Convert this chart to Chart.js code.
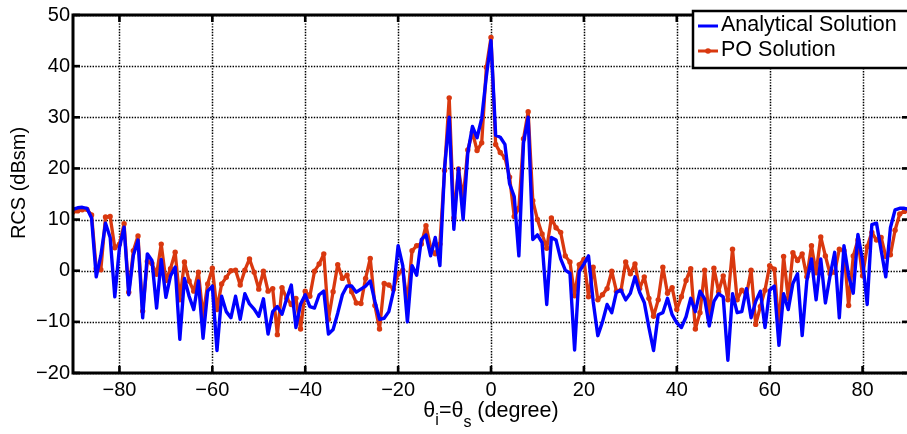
<!DOCTYPE html>
<html>
<head>
<meta charset="utf-8">
<script src="https://cdn.jsdelivr.net/npm/chart.js@4.4.1/dist/chart.umd.min.js"></script>
<style>
html,body{margin:0;padding:0;background:#fff;overflow:hidden;width:907px;height:434px;}
canvas{display:block;}
</style>
</head>
<body>
<canvas id="c" width="912" height="434" style="width:912px;height:434px"></canvas>
<script>
const angles = [-90,-89,-88,-87,-86,-85,-84,-83,-82,-81,-80,-79,-78,-77,-76,-75,-74,-73,-72,-71,
-70,-69,-68,-67,-66,-65,-64,-63,-62,-61,-60,-59,-58,-57,-56,-55,-54,-53,-52,-51,
-50,-49,-48,-47,-46,-45,-44,-43,-42,-41,-40,-39,-38,-37,-36,-35,-34,-33,-32,-31,
-30,-29,-28,-27,-26,-25,-24,-23,-22,-21,-20,-19,-18,-17,-16,-15,-14,-13,-12,-11,
-10,-9,-8,-7,-6,-5,-4,-3,-2,-1,0,1,2,3,4,5,6,7,8,9,
10,11,12,13,14,15,16,17,18,19,20,21,22,23,24,25,26,27,28,29,
30,31,32,33,34,35,36,37,38,39,40,41,42,43,44,45,46,47,48,49,
50,51,52,53,54,55,56,57,58,59,60,61,62,63,64,65,66,67,68,69,
70,71,72,73,74,75,76,77,78,79,80,81,82,83,84,85,86,87,88,89,90];

const analytical = [12.0,12.3,12.4,12.2,10.3,-1.2,3.0,9.3,6.5,-5.1,
4.5,8.5,-4.7,3.0,6.0,-9.2,3.3,2.0,-7.3,2.2,
-5.2,-1.0,0.7,-13.4,-1.5,-5.0,-7.6,-2.0,-13.2,-4.0,
-3.0,-15.6,-5.0,-8.0,-9.2,-5.0,-9.5,-4.5,-6.5,-7.5,
-8.9,-5.5,-12.4,-8.0,-7.0,-8.5,-5.5,-2.8,-11.1,-6.5,
-4.7,-7.0,-7.3,-4.7,-4.0,-12.4,-11.5,-8.3,-4.7,-3.0,
-3.0,-4.2,-3.6,-3.0,-2.0,-6.0,-9.5,-9.3,-8.0,-4.0,
4.9,1.0,-10.0,1.0,-0.9,6.1,7.0,2.9,6.5,1.0,
20.0,30.0,8.1,20.0,10.0,23.0,28.2,26.0,29.8,38.0,
45.0,26.5,26.1,24.7,17.0,14.5,2.9,25.0,30.0,6.1,
7.0,5.5,-6.6,6.5,6.0,2.3,0.1,-0.5,-15.5,-0.2,
1.3,2.9,-6.0,-12.7,-10.0,-6.6,-8.2,-4.2,-3.8,-5.7,
-4.4,-1.2,-4.2,-6.2,-11.1,-15.6,-8.6,-8.2,-5.4,-8.6,
-10.2,-11.1,-9.0,-5.4,-8.0,-4.0,-5.5,-10.8,-6.0,-4.5,
-5.1,-17.5,-4.5,-8.2,-8.0,-3.5,-9.2,-6.0,-4.0,-11.1,
-3.8,-3.0,-14.6,-4.5,-7.6,-2.5,-0.6,-12.7,-2.0,2.3,
-5.7,2.3,-6.3,-1.0,3.6,-9.2,4.9,-1.0,-4.4,7.1,
2.0,-6.6,9.0,9.3,4.0,-1.2,8.4,11.9,12.2,12.2,12.0];

const po = [11.5,11.7,11.9,12.0,10.9,0.4,0.2,10.5,10.6,4.5,
5.2,9.2,-4.2,3.9,6.8,-7.9,1.8,1.4,-0.7,5.2,
-1.9,0.4,3.6,-5.7,1.7,-2.0,-4.0,-0.3,-8.9,-2.6,
0.5,-7.6,-2.6,-1.3,0.0,0.1,-2.8,0.1,2.3,-0.3,
-3.6,-0.1,-4.0,-3.5,-12.5,-3.3,-5.4,-6.6,-5.4,-11.4,
-4.0,-5.0,-0.1,1.3,3.3,-9.5,-4.1,1.2,-1.5,-0.9,
-4.1,-6.3,-6.4,-1.5,2.4,-6.8,-11.4,-2.5,-2.8,-3.6,
-0.6,0.1,-6.1,3.9,4.9,5.2,8.8,4.5,3.3,5.2,
19.6,33.8,10.3,19.9,14.1,23.6,27.1,23.5,25.0,39.8,
45.6,24.7,23.1,22.1,18.3,10.6,12.2,25.8,31.1,13.7,
10.0,7.2,4.4,10.3,8.4,7.5,2.9,1.7,-4.9,1.2,
2.2,-5.1,0.7,-5.7,-4.7,-3.5,-0.1,-4.0,-3.8,1.7,
-0.6,1.3,-3.5,-1.2,-5.4,-8.9,-5.7,0.7,-4.4,-3.3,
-7.6,-5.1,-1.9,0.4,-11.4,-8.2,0.1,-9.2,0.5,-4.1,
-1.0,-5.7,4.2,-5.7,-3.8,-4.7,0.1,-10.5,-7.0,-3.8,
1.0,0.3,-11.1,2.8,-5.4,3.5,2.0,3.3,-1.2,4.9,
-0.4,6.6,2.9,-0.6,-0.3,4.2,3.9,-6.8,2.9,6.0,
-1.0,4.7,7.5,6.0,6.5,2.8,3.1,7.9,11.1,11.6,11.8];

const xTicks = [-80,-60,-40,-20,0,20,40,60,80];
const yTicks = [-20,-10,0,10,20,30,40,50];
const seriesNames = ['Analytical Solution','PO Solution'];
const yTitle = 'RCS (dBsm)';

const BLUE = '#0000ff';
const RED = '#d9380f';
const FONT = '"Liberation Sans", Arial, Helvetica, sans-serif';

const toXY = (ys) => angles.map((a, i) => ({x: a, y: ys[i]}));

const frameTicks = {
  id: 'frameTicks',
  beforeDatasetsDraw(chart) {
    const {ctx, chartArea: ca, scales: {x, y}} = chart;
    ctx.save();
    ctx.strokeStyle = '#000';
    ctx.lineWidth = 1.5;
    ctx.setLineDash([1.4, 1.4]);
    xTicks.forEach(v => {
      const px = Math.round(x.getPixelForValue(v)) + 0.5;
      ctx.beginPath(); ctx.moveTo(px, ca.top); ctx.lineTo(px, ca.bottom); ctx.stroke();
    });
    yTicks.forEach(v => {
      const py = Math.round(y.getPixelForValue(v)) + 0.5;
      ctx.beginPath(); ctx.moveTo(ca.left, py); ctx.lineTo(ca.right, py); ctx.stroke();
    });
    ctx.restore();
  },
  afterDatasetsDraw(chart) {
    const {ctx, chartArea: ca, scales: {x, y}} = chart;
    ctx.save();
    ctx.strokeStyle = '#000';
    ctx.setLineDash([]);
    ctx.lineWidth = 2.6;
    const tl = 7;
    xTicks.forEach(v => {
      const px = x.getPixelForValue(v);
      ctx.beginPath(); ctx.moveTo(px, ca.bottom); ctx.lineTo(px, ca.bottom - tl); ctx.stroke();
      ctx.beginPath(); ctx.moveTo(px, ca.top); ctx.lineTo(px, ca.top + tl); ctx.stroke();
    });
    yTicks.forEach(v => {
      const py = y.getPixelForValue(v);
      ctx.beginPath(); ctx.moveTo(ca.left, py); ctx.lineTo(ca.left + tl, py); ctx.stroke();
      ctx.beginPath(); ctx.moveTo(ca.right, py); ctx.lineTo(ca.right - tl, py); ctx.stroke();
    });
    ctx.lineWidth = 3;
    ctx.strokeRect(ca.left, ca.top, ca.right - ca.left, ca.bottom - ca.top);

    ctx.fillStyle = '#000';
    // y axis title
    ctx.save();
    ctx.translate(19, 183);
    ctx.rotate(-Math.PI / 2);
    ctx.font = '20px ' + FONT;
    ctx.textAlign = 'center';
    ctx.textBaseline = 'middle';
    ctx.fillText(yTitle, 0, 0);
    ctx.restore();

    // x axis title with subscripts
    ctx.textBaseline = 'alphabetic';
    ctx.textAlign = 'left';
    const big = '21.5px ' + FONT, small = '16px ' + FONT;
    const parts = [['\u03b8', big, 0], ['i', small, 8], ['=\u03b8', big, 0], ['s', small, 10], [' (degree)', big, 0]];
    let total = 0;
    parts.forEach(p => { ctx.font = p[1]; total += ctx.measureText(p[0]).width; });
    let cx = x.getPixelForValue(0) - total / 2;
    const base = 417;
    parts.forEach(p => { ctx.font = p[1]; ctx.fillText(p[0], cx, base + p[2]); cx += ctx.measureText(p[0]).width; });

    // legend box
    const lx = 693, ly = 11, lw = 240, lh = 57;
    ctx.fillStyle = '#fff';
    ctx.fillRect(lx, ly, lw, lh);
    ctx.lineWidth = 2.5;
    ctx.strokeRect(lx, ly, lw, lh);
    ctx.font = '21.5px ' + FONT;
    ctx.fillStyle = '#000';
    ctx.textBaseline = 'middle';
    const rows = [[BLUE, false, 25], [RED, true, 50]];
    rows.forEach((r, i) => {
      ctx.strokeStyle = r[0];
      ctx.lineWidth = 3;
      ctx.beginPath(); ctx.moveTo(698, r[2] + 1); ctx.lineTo(718, r[2] + 1); ctx.stroke();
      if (r[1]) { ctx.fillStyle = r[0]; ctx.beginPath(); ctx.arc(708, r[2] + 1, 2.8, 0, Math.PI * 2); ctx.fill(); }
      ctx.fillStyle = '#000';
      ctx.fillText(seriesNames[i], 721, r[2]);
    });
    ctx.restore();
  }
};

new Chart(document.getElementById('c'), {
  type: 'line',
  data: {
    datasets: [
      {label: seriesNames[0], data: toXY(analytical), borderColor: BLUE, backgroundColor: BLUE,
       borderWidth: 3.4, pointRadius: 0, tension: 0, borderJoinStyle: 'round'},
      {label: seriesNames[1], data: toXY(po), borderColor: RED, backgroundColor: RED,
       borderWidth: 3.3, pointRadius: 2.7, pointBorderWidth: 0, pointHoverRadius: 0, tension: 0, borderJoinStyle: 'round'}
    ]
  },
  options: {
    responsive: false,
    animation: false,
    devicePixelRatio: 1,
    layout: {padding: {top: 8, right: 3, left: 0, bottom: 0}},
    plugins: {legend: {display: false}, tooltip: {enabled: false}},
    scales: {
      x: {
        type: 'linear', min: -90, max: 90,
        afterBuildTicks: (s) => { s.ticks = xTicks.map(v => ({value: v})); },
        afterFit: (s) => { s.height = 61; },
        grid: {display: false, drawTicks: false},
        border: {display: false},
        ticks: {padding: 5, color: '#000', font: {family: FONT, size: 20},
                maxRotation: 0, autoSkip: false,
                callback: (v) => String(v).replace('-', '\u2212')}
      },
      y: {
        min: -20, max: 50,
        afterBuildTicks: (s) => { s.ticks = yTicks.map(v => ({value: v})); },
        afterFit: (s) => { s.width = 73; },
        grid: {display: false, drawTicks: false},
        border: {display: false},
        ticks: {padding: 3, color: '#000', font: {family: FONT, size: 20},
                callback: (v) => String(v).replace('-', '\u2212')}
      }
    }
  },
  plugins: [frameTicks]
});
</script>
</body>
</html>
